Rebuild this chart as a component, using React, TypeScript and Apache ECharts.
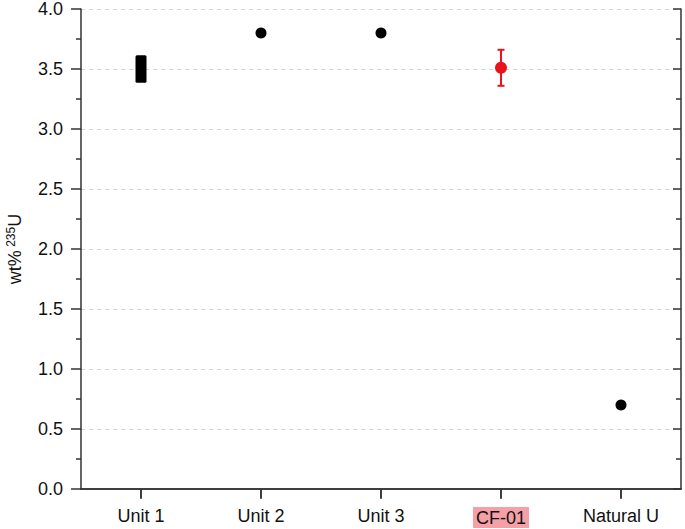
import React, { useEffect, useRef } from "react";
import * as echarts from "echarts";

const categories = ["Unit 1", "Unit 2", "Unit 3", "CF-01", "Natural U"];
const blackPoints: [string, number][] = [
  ["Unit 2", 3.8],
  ["Unit 3", 3.8],
  ["Natural U", 0.7],
];
const cfPoint: [string, number] = ["CF-01", 3.51];
const cfErrorRange: [number, number] = [3.36, 3.66];
const unit1Range: [number, number] = [3.385, 3.615];
const yTicks = { min: 0, max: 4, interval: 0.5 };

const FONT = "'Liberation Sans', Arial, Helvetica, sans-serif";
const AXIS_COLOR = "#333";
const RED = "#e8141b";

export default function App() {
  const ref = useRef<HTMLDivElement>(null);
  useEffect(() => {
    if (!ref.current) return;
    const chart = echarts.init(ref.current, undefined, { renderer: "svg" });
    const axisLine = { show: true, lineStyle: { color: AXIS_COLOR, width: 1.5 } };
    chart.setOption({
      animation: false,
      textStyle: { fontFamily: FONT },
      grid: { left: 81, right: 4, top: 9, bottom: 40, containLabel: false, outerBoundsMode: "none" },
      xAxis: [
        {
          type: "category",
          data: categories,
          boundaryGap: true,
          axisLine,
          axisTick: { show: true, alignWithLabel: true, length: 10, lineStyle: { color: AXIS_COLOR, width: 1.5 } },
          axisLabel: {
            color: "#111",
            fontSize: 18,
            fontFamily: FONT,
            margin: 18,
            formatter: (v: string) => (v === "CF-01" ? "{hl|" + v + "}" : v),
            rich: {
              hl: { backgroundColor: "#f5a0a6", padding: [2, 3, 1, 3], fontSize: 18, color: "#111", fontFamily: FONT },
            },
          },
          splitLine: { show: false },
        },
        {
          type: "category",
          data: categories,
          position: "top",
          boundaryGap: true,
          axisLine,
          axisTick: { show: true, inside: true, alignWithLabel: true, length: 9, lineStyle: { color: AXIS_COLOR, width: 1.5 } },
          axisLabel: { show: false },
          splitLine: { show: false },
        },
      ],
      yAxis: [
        {
          type: "value",
          min: yTicks.min,
          max: yTicks.max,
          interval: yTicks.interval,
          axisLine,
          axisTick: { show: true, length: 10, lineStyle: { color: AXIS_COLOR, width: 1.5 } },
          minorTick: { show: true, splitNumber: 2, length: 5, lineStyle: { color: AXIS_COLOR, width: 1.5 } },
          axisLabel: {
            color: "#111",
            fontSize: 18,
            lineHeight: 16,
            fontFamily: FONT,
            margin: 18,
            formatter: (v: number) => v.toFixed(1),
          },
          splitLine: { show: true, lineStyle: { color: "#d4d4d4", type: [4, 4], width: 1 } },
          name: "{a|wt%}{s| 235}{a|U}",
          nameLocation: "middle",
          nameRotate: 90,
          nameGap: 56,
          nameTextStyle: {
            rich: {
              a: { fontSize: 18, lineHeight: 20, color: "#111", fontFamily: FONT },
              s: { fontSize: 12, lineHeight: 12, verticalAlign: "top", color: "#111", fontFamily: FONT },
            },
          },
        },
        {
          type: "value",
          position: "right",
          min: yTicks.min,
          max: yTicks.max,
          interval: yTicks.interval,
          axisLine,
          axisTick: { show: true, inside: true, length: 8, lineStyle: { color: AXIS_COLOR, width: 1.5 } },
          minorTick: { show: true, splitNumber: 2, length: 5, lineStyle: { color: AXIS_COLOR, width: 1.5 } },
          axisLabel: { show: false },
          splitLine: { show: false },
        },
      ],
      series: [
        {
          type: "custom",
          xAxisIndex: 0,
          yAxisIndex: 0,
          data: [[categories[0], unit1Range[0], unit1Range[1]]],
          renderItem: (params: any, api: any) => {
            const lo = api.coord([api.value(0), api.value(1)]);
            const hi = api.coord([api.value(0), api.value(2)]);
            const w = 11;
            return {
              type: "rect",
              shape: { x: lo[0] - w / 2, y: hi[1], width: w, height: lo[1] - hi[1], r: 1.5 },
              style: { fill: "#000" },
            };
          },
          z: 3,
        },
        {
          type: "custom",
          xAxisIndex: 0,
          yAxisIndex: 0,
          data: [[cfPoint[0], cfErrorRange[0], cfErrorRange[1]]],
          renderItem: (params: any, api: any) => {
            const lo = api.coord([api.value(0), api.value(1)]);
            const hi = api.coord([api.value(0), api.value(2)]);
            const cap = 3.5;
            const style = { stroke: RED, lineWidth: 2, fill: "none" };
            return {
              type: "group",
              children: [
                { type: "line", shape: { x1: lo[0], y1: lo[1], x2: hi[0], y2: hi[1] }, style },
                { type: "line", shape: { x1: lo[0] - cap, y1: lo[1], x2: lo[0] + cap, y2: lo[1] }, style },
                { type: "line", shape: { x1: hi[0] - cap, y1: hi[1], x2: hi[0] + cap, y2: hi[1] }, style },
              ],
            };
          },
          z: 3,
        },
        {
          type: "scatter",
          xAxisIndex: 0,
          yAxisIndex: 0,
          data: blackPoints,
          symbol: "circle",
          symbolSize: 11,
          itemStyle: { color: "#000", opacity: 1 },
          z: 4,
        },
        {
          type: "scatter",
          xAxisIndex: 0,
          yAxisIndex: 0,
          data: [cfPoint],
          symbol: "circle",
          symbolSize: 12,
          itemStyle: { color: RED, opacity: 1 },
          z: 5,
        },
      ],
    });
    return () => chart.dispose();
  }, []);
  return <div ref={ref} style={{ width: 685, height: 529, position: "absolute", left: 0, top: 0 }} />;
}
